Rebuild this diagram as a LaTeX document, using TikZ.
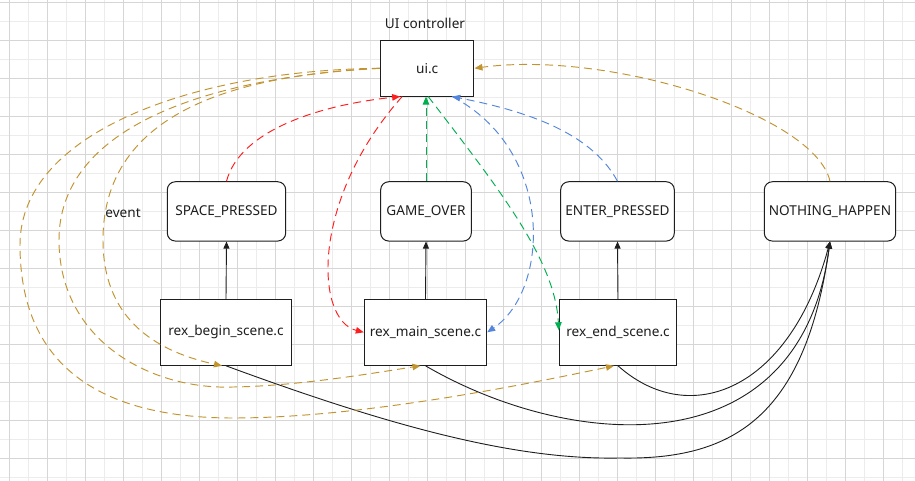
\documentclass[tikz,border=0pt]{standalone}
\usepackage{fontspec}
\setmainfont{Noto Sans}
\usetikzlibrary{arrows.meta}
\definecolor{gridmaj}{RGB}{214,214,214}
\definecolor{gridmin}{RGB}{236,236,236}
\definecolor{brn}{RGB}{194,148,48}
\definecolor{redc}{RGB}{255,30,30}
\definecolor{grnc}{RGB}{0,176,80}
\definecolor{bluc}{RGB}{84,134,222}
\definecolor{ink}{RGB}{30,30,30}
\begin{document}
\begin{tikzpicture}[x=1pt,y=-1pt,font=\fontsize{13.6}{16}\selectfont,
  box/.style={draw=ink,line width=1pt,fill=white,inner sep=0pt,text=ink},
  evbox/.style={box,rounded corners=8pt},
  blk/.style={draw=ink,line width=0.9pt,-{Triangle[length=7pt,width=6pt]}},
  dsh/.style={dash pattern=on 8pt off 5pt,line width=0.95pt,-{Triangle[length=8pt,width=6.5pt]}},
  brnline/.style={dsh,draw=brn},
  redline/.style={dsh,draw=redc},
  grnline/.style={dsh,draw=grnc},
  bluline/.style={dsh,draw=bluc}]
\fill[white] (0,0) rectangle (915,481);
\useasboundingbox (0,0) rectangle (915,481);
% grid
\foreach \x in {28.5,66.5,...,915} \draw[gridmin,line width=0.8pt] (\x,0) -- (\x,481);
\foreach \y in {21.7,59.7,...,481} \draw[gridmin,line width=0.8pt] (0,\y) -- (915,\y);
\foreach \x in {9.5,47.5,...,915} \draw[gridmaj,line width=0.8pt] (\x,0) -- (\x,481);
\foreach \y in {2.7,40.7,...,481} \draw[gridmaj,line width=0.8pt] (0,\y) -- (915,\y);
% nodes
\node[box,minimum width=93.5,minimum height=55.5] (ui) at (427.2,68.3) {ui.c};
\node[text=ink] (uilab) at (425,23) {UI controller};
\node[evbox,minimum width=118.4,minimum height=59.3] (sp) at (226.5,211.4) {SPACE\_PRESSED};
\node[evbox,minimum width=90.6,minimum height=59.3] (go) at (426,211.4) {GAME\_OVER};
\node[evbox,minimum width=113.6,minimum height=59.3] (ep) at (617.5,211.4) {ENTER\_PRESSED};
\node[evbox,minimum width=131.4,minimum height=59.3] (nh) at (830,211.4) {NOTHING\_HAPPEN};
\node[box,minimum width=131.4,minimum height=66] (bs) at (226,332.3) {rex\_begin\_scene.c};
\node[box,minimum width=122.4,minimum height=66] (ms) at (425.5,332.3) {rex\_main\_scene.c};
\node[box,minimum width=117.4,minimum height=66] (es) at (618,332.3) {rex\_end\_scene.c};
\node[text=ink] (ev) at (123,213) {event};
% black straight arrows
\draw[blk] (bs.north) -- (sp.south);
\draw[blk] (ms.north) -- (go.south);
\draw[blk] (es.north) -- (ep.south);
% black curves to NOTHING_HAPPEN
\draw[blk] (es.south) .. controls (690,430) and (790,390) .. (nh.south);
\draw[blk] (ms.south) .. controls (570,450) and (800,470) .. (nh.south);
\draw[blk] (bs.south) .. controls (400,430) and (520,460) .. (620,458) .. controls (730,460) and (805,420) .. (nh.south);
% brown dashed
\draw[brnline] (ui.west) .. controls (240,75) and (103,110) .. (103,240) .. controls (103,315) and (150,350) .. ([xshift=-4pt]bs.south);
\draw[brnline] (ui.west) .. controls (200,78) and (59,130) .. (59,240) .. controls (59,340) and (150,390) .. (233,387) .. controls (300,386) and (380,372) .. ([xshift=-5pt]ms.south);
\draw[brnline] (ui.west) .. controls (200,70) and (20,130) .. (20,245) .. controls (20,380) and (120,418) .. (233,418) .. controls (350,418) and (500,390) .. ([xshift=-4pt]es.south);
\draw[brnline] (nh.north) .. controls (815,115) and (610,50) .. (ui.east);
% red
\draw[redline] (sp.north) .. controls (240,130) and (320,105) .. ([xshift=-27pt]ui.south);
\draw[redline] ([xshift=-25pt]ui.south) .. controls (310,200) and (315,320) .. (ms.west);
% green
\draw[grnline] (go.north) -- (go.north |- ui.south);
\draw[grnline] ([xshift=1pt]ui.south) .. controls (500,190) and (555,260) .. ([yshift=2pt]es.west);
% blue
\draw[bluline] (ep.north) .. controls (590,130) and (520,110) .. ([xshift=25pt]ui.south);
\draw[bluline] ([xshift=25pt]ui.south) .. controls (555,150) and (550,290) .. (ms.east);
\end{tikzpicture}
\end{document}
